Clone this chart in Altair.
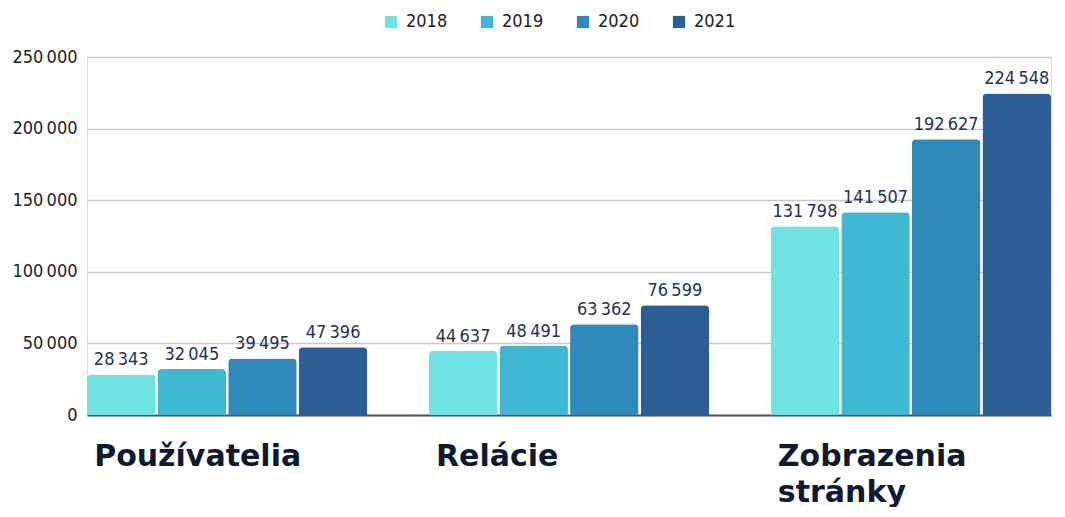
import altair as alt
import pandas as pd

categories = ["Používatelia", "Relácie", "Zobrazenia stránky"]
years = ["2018", "2019", "2020", "2021"]
values = {
    "Používatelia": [28343, 32045, 39495, 47396],
    "Relácie": [44637, 48491, 63362, 76599],
    "Zobrazenia stránky": [131798, 141507, 192627, 224548],
}
colors = ["#6fe2e3", "#40b8d3", "#2d8aba", "#2e5e97"]
y_ticks = [0, 50000, 100000, 150000, 200000, 250000]

rows = []
for c in categories:
    for y, v in zip(years, values[c]):
        rows.append({"cat": c, "year": y, "value": v})
df = pd.DataFrame(rows)

NUM_FONT = "DejaVu Sans Condensed, Roboto, Noto Sans"
yscale = alt.Scale(domain=[0, 250000], nice=False)

x = alt.X(
    "cat:N",
    sort=categories,
    scale=alt.Scale(paddingInner=0.18, paddingOuter=0),
    axis=alt.Axis(
        title=None,
        labelAlign="left",
        labelBaseline="top",
        labelAngle=0,
        labelFont="DejaVu Sans",
        labelFontWeight="bold",
        labelFontSize=30,
        labelColor="#0e1a32",
        labelPadding=26,
        labelLineHeight=36,
        labelOffset=-133,
        labelExpr="datum.label == 'Zobrazenia stránky' ? ['Zobrazenia', 'stránky'] : datum.label",
        ticks=False,
        domain=True,
        domainColor="#555555",
        domainWidth=2,
        labelLimit=400,
        labelFlush=False,
        labelOverlap=False,
    ),
)
y = alt.Y(
    "value:Q",
    scale=yscale,
    axis=alt.Axis(
        title=None,
        values=y_ticks,
        labelExpr="replace(format(datum.value, ','), ',', '\u2009')",
        labelFont=NUM_FONT,
        labelFontSize=18,
        labelColor="#222222",
        labelPadding=10,
        ticks=False,
        domain=False,
        grid=True,
        gridColor="#c8c8c8",
        gridWidth=1.5,
    ),
)
color = alt.Color(
    "year:N",
    scale=alt.Scale(domain=years, range=colors),
    legend=alt.Legend(
        title=None,
        orient="none",
        direction="horizontal",
        legendX=295,
        legendY=-44,
        offset=0,
        symbolType="square",
        symbolSize=150,
        symbolStrokeWidth=0,
        labelFont=NUM_FONT,
        labelFontSize=18,
        labelColor="#222222",
        labelOffset=6,
        columnPadding=30,
        padding=0,
    ),
)
xo = alt.XOffset("year:N", sort=years, scale=alt.Scale(paddingInner=0.03, paddingOuter=0))

base = alt.Chart(df).encode(x=x, xOffset=xo)
bars = base.mark_bar(cornerRadiusTopLeft=4, cornerRadiusTopRight=4).encode(y=y, color=color)
labels = base.mark_text(baseline="bottom", dy=-5, fontSize=18,
                        font=NUM_FONT,
                        color="#27324d").encode(
    y=alt.Y("value:Q", scale=yscale),
    text=alt.Text("label:N"),
).transform_calculate(label="replace(format(datum.value, ','), ',', '\u2009')")

chart = (
    alt.layer(bars, labels)
    .properties(width=964, height=358,
                padding={"left": 3, "top": 5, "right": 0, "bottom": 0})
    .configure_view(stroke=None)
    .configure(background="white")
)
chart.save("out.html", embed_options={"renderer": "svg", "actions": False})
